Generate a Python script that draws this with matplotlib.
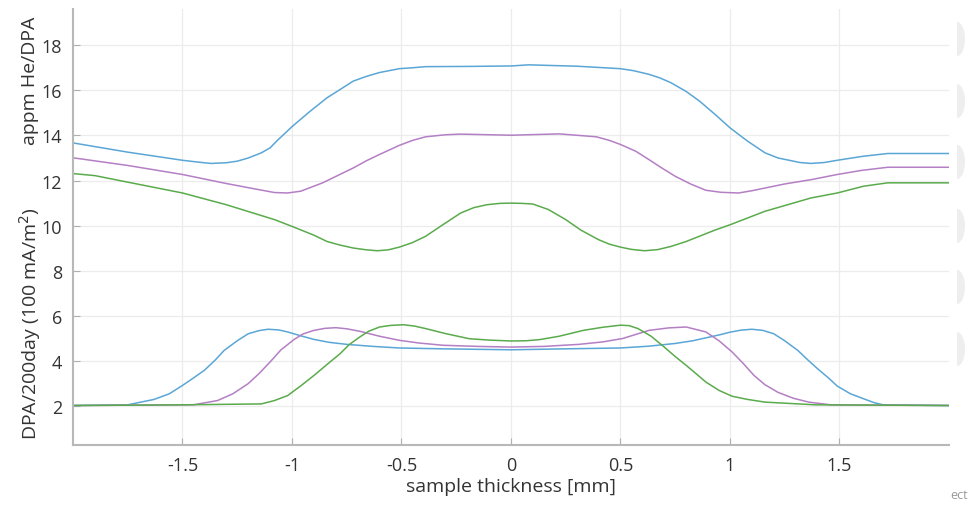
import numpy as np
import matplotlib.pyplot as plt
from matplotlib.patches import Polygon

plt.rcParams['font.family'] = ['Open Sans', 'DejaVu Sans']

# appm He/DPA curves (upper group)
he_blue_x = [-2.0, -1.75, -1.5, -1.43, -1.37, -1.3, -1.25, -1.2, -1.14, -1.1, -1.07, -1.0, -0.92, -0.84, -0.72,
             -0.66, -0.60, -0.51, -0.45, -0.39, -0.2, 0.0, 0.08, 0.3, 0.5, 0.56, 0.63, 0.68, 0.73, 0.80, 0.86,
             0.93, 1.0, 1.08, 1.16, 1.22, 1.27, 1.32, 1.37, 1.43, 1.49, 1.61, 1.72, 2.0]
he_blue_y = [13.67, 13.26, 12.90, 12.82, 12.76, 12.79, 12.86, 13.0, 13.23, 13.45, 13.75, 14.39, 15.05, 15.67, 16.41,
             16.62, 16.79, 16.96, 17.0, 17.05, 17.06, 17.08, 17.13, 17.07, 16.96, 16.87, 16.71, 16.55, 16.34, 15.95,
             15.53, 14.95, 14.34, 13.75, 13.23, 13.0, 12.9, 12.8, 12.76, 12.8, 12.90, 13.08, 13.2, 13.2]

he_purple_x = [-2.0, -1.75, -1.5, -1.30, -1.18, -1.08, -1.02, -0.96, -0.86, -0.72, -0.66, -0.60, -0.51, -0.45,
               -0.39, -0.3, -0.23, 0.0, 0.22, 0.39, 0.45, 0.5, 0.57, 0.63, 0.69, 0.75, 0.82, 0.89, 0.96, 1.04,
               1.1, 1.16, 1.25, 1.37, 1.49, 1.6, 1.72, 2.0]
he_purple_y = [13.01, 12.67, 12.27, 11.87, 11.65, 11.47, 11.45, 11.53, 11.90, 12.56, 12.88, 13.16, 13.56, 13.78,
               13.94, 14.03, 14.06, 14.01, 14.07, 13.94, 13.78, 13.60, 13.3, 12.93, 12.55, 12.19, 11.85, 11.57,
               11.48, 11.45, 11.55, 11.67, 11.85, 12.04, 12.27, 12.45, 12.59, 12.59]

he_green_x = [-2.0, -1.9, -1.75, -1.5, -1.30, -1.08, -1.0, -0.9, -0.84, -0.78, -0.72, -0.66, -0.61, -0.56,
              -0.51, -0.45, -0.39, -0.31, -0.23, -0.17, -0.11, -0.05, 0.0, 0.05, 0.1, 0.17, 0.25, 0.32, 0.40,
              0.45, 0.5, 0.55, 0.61, 0.67, 0.73, 0.8, 0.86, 0.93, 1.0, 1.16, 1.37, 1.49, 1.61, 1.72, 2.0]
he_green_y = [12.31, 12.22, 11.93, 11.45, 10.93, 10.27, 9.97, 9.58, 9.30, 9.14, 9.01, 8.93, 8.89, 8.93,
              9.05, 9.25, 9.53, 10.05, 10.56, 10.8, 10.93, 10.99, 11.0, 10.99, 10.96, 10.72, 10.27, 9.8, 9.38,
              9.18, 9.05, 8.95, 8.89, 8.94, 9.08, 9.3, 9.53, 9.8, 10.04, 10.64, 11.23, 11.45, 11.75, 11.90, 11.90]

# DPA/200day curves (lower group)
dpa_blue_x = [-2.0, -1.75, -1.63, -1.56, -1.5, -1.45, -1.40, -1.35, -1.31, -1.25, -1.20, -1.15, -1.11, -1.06,
              -1.02, -0.96, -0.90, -0.83, -0.75, -0.63, -0.51, -0.3, 0.0, 0.3, 0.5, 0.63, 0.75, 0.83, 0.90, 0.96,
              1.0, 1.05, 1.10, 1.15, 1.20, 1.25, 1.31, 1.35, 1.40, 1.45, 1.49, 1.55, 1.61, 1.66, 1.70, 2.0]
dpa_blue_y = [2.03, 2.06, 2.30, 2.55, 2.92, 3.25, 3.59, 4.05, 4.47, 4.9, 5.21, 5.35, 5.41, 5.38,
              5.29, 5.12, 4.96, 4.83, 4.74, 4.65, 4.58, 4.54, 4.50, 4.55, 4.58, 4.66, 4.78, 4.9, 5.05, 5.18,
              5.28, 5.37, 5.41, 5.36, 5.21, 4.9, 4.47, 4.1, 3.66, 3.25, 2.89, 2.55, 2.33, 2.15, 2.06, 2.03]

dpa_purple_x = [-2.0, -1.45, -1.34, -1.27, -1.20, -1.15, -1.10, -1.05, -0.99, -0.95, -0.90, -0.85, -0.80, -0.75,
                -0.69, -0.6, -0.51, -0.42, -0.31, -0.15, 0.0, 0.15, 0.31, 0.42, 0.51, 0.63, 0.72, 0.80, 0.89,
                0.95, 1.01, 1.06, 1.11, 1.16, 1.22, 1.29, 1.36, 1.46, 2.0]
dpa_purple_y = [2.03, 2.06, 2.25, 2.55, 3.0, 3.45, 3.96, 4.5, 4.96, 5.2, 5.36, 5.45, 5.48, 5.43,
                5.32, 5.1, 4.92, 4.8, 4.70, 4.65, 4.62, 4.65, 4.74, 4.85, 5.0, 5.36, 5.47, 5.51, 5.29,
                4.9, 4.4, 3.9, 3.36, 2.95, 2.61, 2.35, 2.18, 2.06, 2.03]

dpa_green_x = [-2.0, -1.5, -1.14, -1.08, -1.02, -0.96, -0.90, -0.84, -0.78, -0.74, -0.69, -0.65, -0.60, -0.55,
               -0.49, -0.44, -0.39, -0.3, -0.19, -0.1, 0.0, 0.07, 0.13, 0.22, 0.33, 0.42, 0.5, 0.54, 0.58, 0.64,
               0.70, 0.75, 0.80, 0.85, 0.89, 0.95, 1.01, 1.08, 1.16, 1.39, 2.0]
dpa_green_y = [2.03, 2.06, 2.10, 2.25, 2.47, 2.9, 3.36, 3.85, 4.33, 4.72, 5.07, 5.32, 5.51, 5.58,
               5.61, 5.55, 5.44, 5.22, 4.99, 4.93, 4.89, 4.9, 4.95, 5.1, 5.36, 5.5, 5.59, 5.57, 5.44, 5.1,
               4.62, 4.2, 3.81, 3.4, 3.07, 2.7, 2.44, 2.3, 2.18, 2.06, 2.03]

x_ticks = [-1.5, -1, -0.5, 0, 0.5, 1, 1.5]
x_tick_labels = ['-1.5', '-1', '-0.5', '0', '0.5', '1', '1.5']
y_ticks = [2, 4, 6, 8, 10, 12, 14, 16, 18]

blue = '#5aa6d6'
purple = '#b47fc4'
green = '#5aab4c'

fig = plt.figure(figsize=(9.72, 5.06), dpi=100)
ax = fig.add_axes([0.0751, 0.1186, 0.9012, 0.8614])

for xs, ys, c in [(he_blue_x, he_blue_y, blue), (he_purple_x, he_purple_y, purple),
                  (he_green_x, he_green_y, green), (dpa_blue_x, dpa_blue_y, blue),
                  (dpa_purple_x, dpa_purple_y, purple), (dpa_green_x, dpa_green_y, green)]:
    ax.plot(xs, ys, color=c, lw=1.1)

ax.set_xlim(-2, 2)
ax.set_ylim(0.28, 19.6)
ax.set_xticks(x_ticks, x_tick_labels)
ax.set_yticks(y_ticks)
ax.grid(True, color='#ececec', lw=0.9)
ax.set_axisbelow(True)

for s in ['top', 'right']:
    ax.spines[s].set_visible(False)
for s in ['left', 'bottom']:
    ax.spines[s].set_color('#b8b8b8')
    ax.spines[s].set_linewidth(1.5)
ax.tick_params(direction='in', length=5, color='#b0b0b0', labelsize=13, labelcolor='#333333', pad=8)

ax.set_xlabel('sample thickness [mm]', fontsize=14, color='#333333', labelpad=2)

# two-part y label
fig.text(0.031, 0.84, 'appm He/DPA', rotation=90, ha='center', va='center', fontsize=14, color='#333333')
fig.text(0.031, 0.36, 'DPA/200day (100 mA/m$^2$)', rotation=90, ha='center', va='center',
         fontsize=14, color='#333333')

# faint half-disc decorations at the right edge of the screenshot (pixel coords)
t = np.linspace(-np.pi / 2, np.pi / 2, 30)
for yc in [40, 102, 163, 227, 288, 350]:
    px = 957 + 8 * np.cos(t)
    py = yc + 17 * np.sin(t)
    pts = np.column_stack([px / 972, 1 - py / 506])
    fig.patches.append(Polygon(pts, closed=True, transform=fig.transFigure,
                               facecolor='#eeeeee', edgecolor='none'))
fig.text(0.978, 0.008, 'ect', fontsize=9, color='#999999', ha='left', va='bottom')

fig.savefig('out.png', dpi=100)
